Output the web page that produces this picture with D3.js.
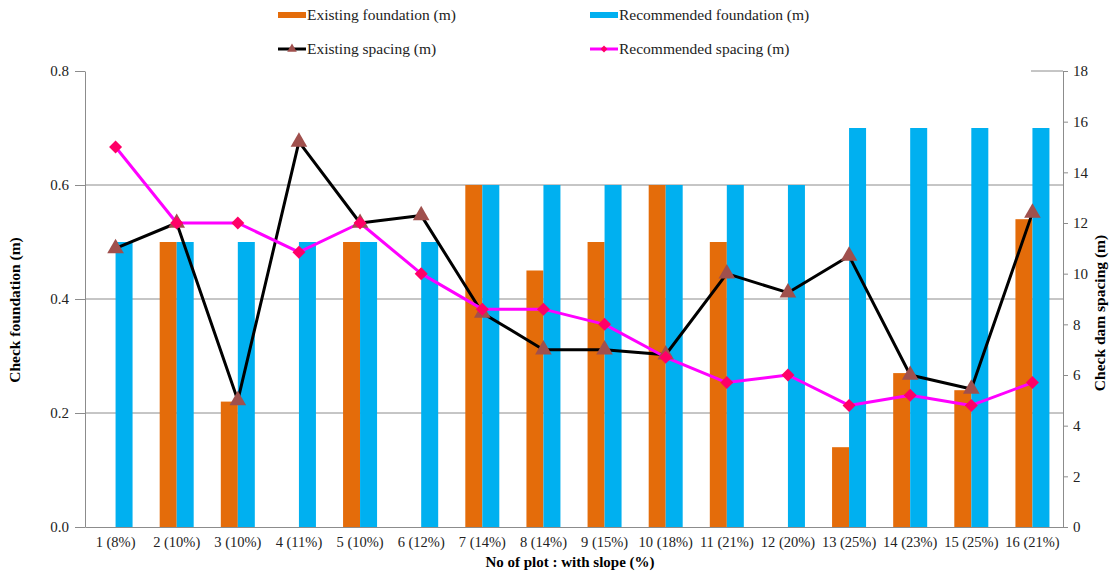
<!DOCTYPE html>
<html>
<head>
<meta charset="utf-8">
<script src="https://cdn.jsdelivr.net/npm/d3@7"></script>
<style>
  html, body { margin: 0; padding: 0; background: #fff; }
  svg { display: block; font-family: "Liberation Serif", "Times New Roman", serif; }
</style>
</head>
<body>
<svg id="chart" width="1110" height="573"></svg>
<script>
// Plots with their slope
const plots = ["1  (8%)", "2 (10%)", "3 (10%)", "4 (11%)", "5 (10%)", "6 (12%)", "7 (14%)", "8 (14%)",
  "9 (15%)", "10 (18%)", "11 (21%)", "12 (20%)", "13 (25%)", "14 (23%)", "15 (25%)", "16 (21%)"];

// Foundation depth (m), left axis
const existingFoundation = [0, 0.5, 0.22, 0, 0.5, 0, 0.6, 0.45, 0.5, 0.6, 0.5, 0, 0.14, 0.27, 0.24, 0.54];
const recommendedFoundation = [0.5, 0.5, 0.5, 0.5, 0.5, 0.5, 0.6, 0.6, 0.6, 0.6, 0.6, 0.6, 0.7, 0.7, 0.7, 0.7];

// Check dam spacing (m), right axis
const existingSpacing = [11, 12, 5, 15.2, 12, 12.3, 8.45, 7, 7, 6.8, 10, 9.25, 10.7, 6, 5.45, 12.4];
const recommendedSpacing = [15, 12, 12, 10.85, 12, 10, 8.6, 8.6, 8, 6.7, 5.7, 6, 4.8, 5.2, 4.8, 5.7];

const leftTicks = [0, 0.2, 0.4, 0.6, 0.8];
const rightTicks = [0, 2, 4, 6, 8, 10, 12, 14, 16, 18];

const colors = {
  existingBar: "#E46C0A",
  recommendedBar: "#00B0F0",
  existingLine: "#000000",
  existingMarker: "#A0504D",
  recommendedLine: "#FF00FF",
  recommendedMarker: "#FF0066",
  grid: "#8C8C8C"
};

const svg = d3.select("#chart");
const m = { left: 85, right: 1063, top: 71, bottom: 527 };

const x = d3.scaleBand().domain(plots).range([m.left, m.right]).paddingInner(0).paddingOuter(0);
const yL = d3.scaleLinear().domain([0, 0.8]).range([m.bottom, m.top]);
const yR = d3.scaleLinear().domain([0, 18]).range([m.bottom, m.top]);
const barW = 17;
const cx = p => x(p) + x.bandwidth() / 2;

// Gridlines on the left axis ticks
svg.append("g")
  .selectAll("line")
  .data(leftTicks.filter(t => t > 0 && t < 0.8))
  .join("line")
  .attr("x1", m.left).attr("x2", m.right)
  .attr("y1", d => yL(d)).attr("y2", d => yL(d))
  .attr("stroke", colors.grid).attr("stroke-width", 1);

// Bars
const bars = svg.append("g");
bars.selectAll("rect.existing")
  .data(plots.map((p, i) => ({ p, v: existingFoundation[i] })).filter(d => d.v > 0))
  .join("rect").attr("class", "existing")
  .attr("x", d => cx(d.p) - barW)
  .attr("width", barW)
  .attr("y", d => yL(d.v))
  .attr("height", d => yL(0) - yL(d.v))
  .attr("fill", colors.existingBar);
bars.selectAll("rect.recommended")
  .data(plots.map((p, i) => ({ p, v: recommendedFoundation[i] })))
  .join("rect").attr("class", "recommended")
  .attr("x", d => cx(d.p))
  .attr("width", barW)
  .attr("y", d => yL(d.v))
  .attr("height", d => yL(0) - yL(d.v))
  .attr("fill", colors.recommendedBar);

// Axes
const axisStyle = g => {
  g.selectAll(".domain").attr("stroke", colors.grid);
  g.selectAll(".tick line").attr("stroke", colors.grid);
  g.selectAll(".tick text").attr("font-family", "Liberation Serif").attr("font-size", 15).attr("fill", "#222");
};

svg.append("g")
  .attr("transform", `translate(${m.left},0)`)
  .call(d3.axisLeft(yL).tickValues(leftTicks).tickFormat(d3.format(".1f")).tickSize(10).tickSizeOuter(0))
  .call(axisStyle)
  .call(g => g.selectAll(".tick text").attr("x", -16));

svg.append("g")
  .attr("transform", `translate(${m.right},0)`)
  .call(d3.axisRight(yR).tickValues(rightTicks).tickSize(5).tickSizeOuter(0))
  .call(axisStyle)
  .call(g => g.selectAll(".tick text").attr("x", 10));

// Short inner tick at the top of the right axis
svg.append("line")
  .attr("x1", m.right - 32).attr("x2", m.right)
  .attr("y1", yR(18)).attr("y2", yR(18))
  .attr("stroke", colors.grid);

svg.append("g")
  .attr("transform", `translate(0,${m.bottom})`)
  .call(d3.axisBottom(x).tickSize(0).tickSizeOuter(0))
  .call(axisStyle)
  .call(g => g.selectAll(".tick text").attr("dy", "1.2em").attr("font-size", 14.5));

// Lines on the right axis
const lineGen = vals => d3.line()
  .x((d, i) => cx(plots[i]))
  .y(d => yR(d))(vals);

svg.append("path")
  .attr("d", lineGen(existingSpacing))
  .attr("fill", "none").attr("stroke", colors.existingLine).attr("stroke-width", 3)
  .attr("stroke-linejoin", "round");

svg.append("path")
  .attr("d", lineGen(recommendedSpacing))
  .attr("fill", "none").attr("stroke", colors.recommendedLine).attr("stroke-width", 3)
  .attr("stroke-linejoin", "round");

const tri = d3.symbol().type(d3.symbolTriangle).size(120);
const dia = "M0,-6.5L6.5,0L0,6.5L-6.5,0Z";

svg.append("g").selectAll("path")
  .data(existingSpacing)
  .join("path")
  .attr("transform", (d, i) => `translate(${cx(plots[i])},${yR(d)})`)
  .attr("d", tri)
  .attr("fill", colors.existingMarker);

svg.append("g").selectAll("path")
  .data(recommendedSpacing)
  .join("path")
  .attr("transform", (d, i) => `translate(${cx(plots[i])},${yR(d)})`)
  .attr("d", dia)
  .attr("fill", colors.recommendedMarker);

// Axis titles
svg.append("text")
  .attr("transform", `translate(20,${(m.top + m.bottom) / 2 + 11}) rotate(-90)`)
  .attr("text-anchor", "middle").attr("font-weight", "bold").attr("font-size", 15.5)
  .text("Check foundation (m)");

svg.append("text")
  .attr("transform", `translate(1105,${(m.top + m.bottom) / 2 + 14}) rotate(-90)`)
  .attr("text-anchor", "middle").attr("font-weight", "bold").attr("font-size", 15.5)
  .text("Check dam spacing (m)");

svg.append("text")
  .attr("x", 570).attr("y", 567)
  .attr("text-anchor", "middle").attr("font-weight", "bold").attr("font-size", 15)
  .text("No of  plot : with  slope (%)");

// Legend
const legend = svg.append("g").attr("font-size", 15.5).attr("fill", "#222");
const legendItems = [
  { label: "Existing foundation (m)", kind: "bar", color: colors.existingBar, lx: 278, ly: 15 },
  { label: "Recommended foundation (m)", kind: "bar", color: colors.recommendedBar, lx: 590, ly: 15 },
  { label: "Existing spacing (m)", kind: "line", color: colors.existingLine, marker: "tri", mcolor: colors.existingMarker, lx: 278, ly: 49 },
  { label: "Recommended spacing (m)", kind: "line", color: colors.recommendedLine, marker: "dia", mcolor: colors.recommendedMarker, lx: 590, ly: 49 }
];
legendItems.forEach(it => {
  const g = legend.append("g").attr("transform", `translate(${it.lx},${it.ly})`);
  if (it.kind === "bar") {
    g.append("rect").attr("x", 0).attr("y", -3).attr("width", 28).attr("height", 6).attr("fill", it.color);
  } else {
    g.append("line").attr("x1", 0).attr("x2", 28).attr("y1", 0).attr("y2", 0)
      .attr("stroke", it.color).attr("stroke-width", 3);
    g.append("path").attr("transform", "translate(14,0)")
      .attr("d", it.marker === "tri" ? d3.symbol().type(d3.symbolTriangle).size(40)() : "M0,-3.5L3.5,0L0,3.5L-3.5,0Z")
      .attr("fill", it.mcolor);
  }
  g.append("text").attr("x", 29).attr("y", 5).text(it.label);
});
</script>
</body>
</html>
